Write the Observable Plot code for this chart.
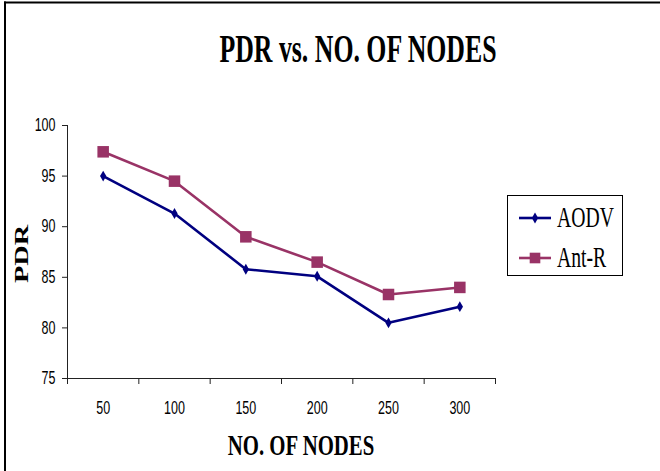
<!DOCTYPE html>
<html>
<head>
<meta charset="utf-8">
<script src="https://cdn.jsdelivr.net/npm/d3@7"></script>
<script src="https://cdn.jsdelivr.net/npm/@observablehq/plot@0.6"></script>
<style>
  html, body { margin: 0; padding: 0; background: #fff; }
  #wrap { position: relative; width: 660px; height: 471px; overflow: hidden; background: #fff; }
  #wrap > svg { position: absolute; left: 0; top: 0; }
</style>
</head>
<body>
<div id="wrap"></div>
<script>
// ---- data ----
const nodes = [50, 100, 150, 200, 250, 300];
const aodv = [95.0, 91.3, 85.8, 85.1, 80.5, 82.1];
const antR = [97.4, 94.5, 89.0, 86.5, 83.3, 84.0];
const seriesNames = ["AODV", "Ant-R"];
const seriesColors = ["#000080", "#993366"];
const yTicks = [75, 80, 85, 90, 95, 100];
const xBounds = [25, 75, 125, 175, 225, 275, 325];
const titleText = "PDR vs. NO. OF NODES";
const xTitle = "NO. OF NODES";
const yTitle = "PDR";

const rows = [];
nodes.forEach((n, i) => {
  rows.push({nodes: n, pdr: aodv[i], series: seriesNames[0]});
  rows.push({nodes: n, pdr: antR[i], series: seriesNames[1]});
});

const W = 660, H = 471;
const chart = Plot.plot({
  width: W, height: H,
  marginLeft: 67, marginRight: 165, marginTop: 125, marginBottom: 93,
  style: {fontFamily: "'Liberation Sans', Arial, sans-serif", fontSize: "12.5px", background: "transparent", color: "#000"},
  x: {type: "linear", domain: [25, 325], label: null},
  y: {domain: [75, 100], label: null},
  color: {domain: seriesNames, range: seriesColors},
  marks: [
    Plot.axisY(yTicks, {tickSize: 5, tickPadding: 7, stroke: "#222", label: null}),
    Plot.axisX(xBounds, {tickSize: 6, tickFormat: () => "", stroke: "#222", label: null}),
    Plot.axisX(nodes, {tickSize: 0, tickPadding: 25, tickFormat: d => String(d), label: null}),
    Plot.ruleX([25], {y1: 75, y2: 100, stroke: "#222"}),
    Plot.ruleY([75], {x1: 25, x2: 325, stroke: "#222"}),
    Plot.line(rows, {x: "nodes", y: "pdr", z: "series", stroke: "series", strokeWidth: 2.6}),
    Plot.dot(rows.filter(d => d.series === "AODV"), {x: "nodes", y: "pdr", symbol: () => "diamond", r: 3.3, fill: seriesColors[0], stroke: "none"}),
    Plot.dot(rows.filter(d => d.series === "Ant-R"), {x: "nodes", y: "pdr", symbol: () => "square", r: 6.5, fill: seriesColors[1], stroke: "none"})
  ]
});
document.getElementById("wrap").appendChild(chart);

// stretch tick labels vertically like the reference (scale around each label's own centre)
chart.querySelectorAll('g[aria-label$="tick label"] text').forEach(t => {
  if (!t.textContent) return;
  let b;
  try { b = t.getBBox(); } catch (e) { return; }
  const cx = b.x + b.width / 2, cy = b.y + b.height / 2;
  if (!isFinite(cx) || !isFinite(cy)) return;
  const tr = t.getAttribute("transform") || "";
  t.setAttribute("transform", `${tr} translate(${cx},${cy}) scale(1,1.4) translate(${-cx},${-cy})`);
});

// ---- overlay: frame lines, titles, legend ----
const svg = d3.select("#wrap").append("svg").attr("width", W).attr("height", H)
  .style("font-family", "'Liberation Serif', 'Times New Roman', serif");

svg.append("line").attr("x1", 4).attr("x2", W).attr("y1", 2.5).attr("y2", 2.5).attr("stroke", "#000").attr("stroke-width", 2);
svg.append("line").attr("x1", 5).attr("x2", 5).attr("y1", 1.5).attr("y2", H).attr("stroke", "#000").attr("stroke-width", 2);

svg.append("text").text(titleText)
  .attr("transform", "translate(358,62) scale(1,1.55)")
  .attr("text-anchor", "middle").attr("font-weight", "bold").attr("font-size", 25.8);

svg.append("text").text(xTitle)
  .attr("transform", "translate(301,455) scale(1,1.45)")
  .attr("text-anchor", "middle").attr("font-weight", "bold").attr("font-size", 20.8);

svg.append("text").text(yTitle)
  .attr("transform", "translate(28,254) rotate(-90) scale(1.45,1)")
  .attr("text-anchor", "middle").attr("font-weight", "bold").attr("font-size", 19.5);

// legend
const lg = svg.append("g");
lg.append("rect").attr("x", 507.5).attr("y", 195.5).attr("width", 115).attr("height", 80)
  .attr("fill", "#fff").attr("stroke", "#000").attr("stroke-width", 1);
const legendY = [218, 258];
const legendSym = [d3.symbol(d3.symbolDiamond, 3.3 * 3.3 * Math.PI), d3.symbol(d3.symbolSquare, 6.0 * 6.0 * Math.PI)];
seriesNames.forEach((name, i) => {
  const y = legendY[i];
  lg.append("line").attr("x1", 519).attr("x2", 551).attr("y1", y).attr("y2", y)
    .attr("stroke", seriesColors[i]).attr("stroke-width", 2.6);
  lg.append("path").attr("d", legendSym[i]()).attr("transform", `translate(535,${y})`).attr("fill", seriesColors[i]);
  lg.append("text").text(name)
    .attr("transform", `translate(557,${y + 9}) scale(1,1.5)`)
    .attr("font-size", 19.7);
});
</script>
</body>
</html>
